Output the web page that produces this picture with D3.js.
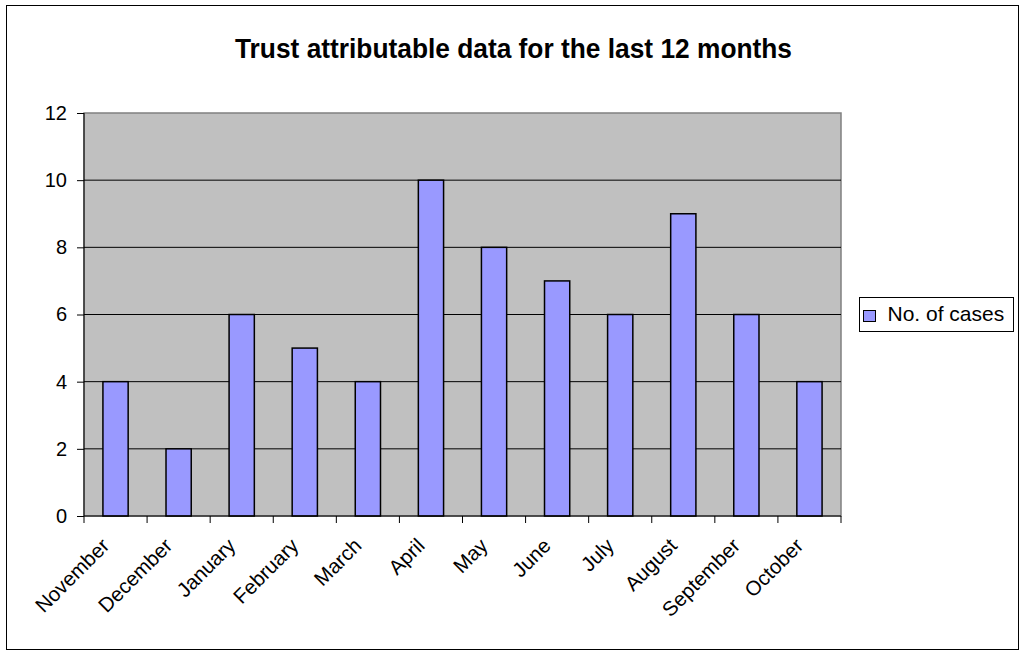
<html>
<head>
<script src="https://d3js.org/d3.v7.min.js"></script>
<style>
  body { margin: 0; background: #fff; }
  svg text { font-family: "Liberation Sans", Arial, sans-serif; }
  .y.axis .domain { stroke: #000; }
  .y.axis line, .x.axis line { stroke: #000; }
</style>
</head>
<body>
<svg id="chart" width="1021" height="652"></svg>
<script>
  const months = ["November", "December", "January", "February", "March", "April",
                  "May", "June", "July", "August", "September", "October"];
  const cases = [4, 2, 6, 5, 4, 10, 8, 7, 6, 9, 6, 4];
  const yTicks = [0, 2, 4, 6, 8, 10, 12];
  const seriesName = "No. of cases";
  const title = "Trust attributable data for the last 12 months";

  const svg = d3.select("svg#chart");
  const margin = {top: 113, left: 84, right: 180, bottom: 136};
  const chartWidth = 757;
  const chartHeight = 403;

  // outer frame
  svg.append("rect")
     .attr("x", 6.5).attr("y", 5.5).attr("width", 1012).attr("height", 644)
     .attr("fill", "#fff").attr("stroke", "#000").attr("stroke-width", 1);

  svg.append("text")
     .attr("x", 513.5).attr("y", 58)
     .attr("text-anchor", "middle")
     .attr("textLength", 557).attr("lengthAdjust", "spacingAndGlyphs")
     .style("font-weight", "bold").style("font-size", "27px")
     .text(title);

  const xScale = d3.scaleBand().domain(months).range([0, chartWidth]);
  const yScale = d3.scaleLinear().domain([0, 12]).range([chartHeight, 0]);

  const chartArea = svg.append("g")
     .attr("transform", `translate(${margin.left},${margin.top})`);

  chartArea.append("rect")
     .attr("x", 0).attr("y", 0).attr("width", chartWidth).attr("height", chartHeight)
     .attr("fill", "#c0c0c0").attr("stroke", "#808080").attr("stroke-width", 1.5);

  // gridlines
  chartArea.selectAll("line.grid").data(yTicks.filter(d => d > 0 && d < 12))
     .join("line").attr("class", "grid")
     .attr("x1", 0).attr("x2", chartWidth)
     .attr("y1", d => yScale(d)).attr("y2", d => yScale(d))
     .attr("stroke", "#000").attr("stroke-width", 1);

  // bars
  const barW = xScale.bandwidth() / 2.5;
  chartArea.selectAll("rect.bar").data(cases)
     .join("rect").attr("class", "bar")
     .attr("x", (d, i) => xScale(months[i]) + xScale.bandwidth() / 2 - barW / 2)
     .attr("y", d => yScale(d))
     .attr("width", barW)
     .attr("height", d => chartHeight - yScale(d))
     .attr("fill", "#9999ff").attr("stroke", "#000").attr("stroke-width", 1.5);

  // y axis
  const leftAxis = d3.axisLeft(yScale).tickValues(yTicks).tickSize(7).tickPadding(10);
  const yAxis = chartArea.append("g").attr("class", "y axis").call(leftAxis);
  yAxis.selectAll("text").style("font-size", "20px").attr("fill", "#000");
  yAxis.select(".domain").attr("d", `M0,0V${chartHeight}`);

  // x axis
  const xAxisG = chartArea.append("g").attr("class", "x axis")
     .attr("transform", `translate(0,${chartHeight})`);
  xAxisG.append("line").attr("x1", 0).attr("x2", chartWidth).attr("stroke", "#000");
  const boundaries = d3.range(months.length + 1).map(i => i * xScale.step());
  xAxisG.selectAll("line.tick").data(boundaries).join("line").attr("class", "tick")
     .attr("x1", d => d).attr("x2", d => d).attr("y1", 0).attr("y2", 7)
     .attr("stroke", "#000");
  xAxisG.selectAll("text").data(months).join("text")
     .attr("transform", d => `translate(${xScale(d) + xScale.bandwidth() / 2 - 5},${31}) rotate(-45)`)
     .attr("text-anchor", "end")
     .style("font-size", "20.5px")
     .text(d => d);

  // legend
  const legend = svg.append("g").attr("transform", "translate(859.5,297.5)");
  legend.append("rect").attr("width", 154).attr("height", 34)
     .attr("fill", "#fff").attr("stroke", "#000");
  legend.append("rect").attr("x", 4).attr("y", 13).attr("width", 12).attr("height", 11)
     .attr("fill", "#9999ff").attr("stroke", "#000").attr("stroke-width", 1);
  legend.append("text").attr("x", 28).attr("y", 23)
     .style("font-size", "21px").text(seriesName);
</script>
</body>
</html>
